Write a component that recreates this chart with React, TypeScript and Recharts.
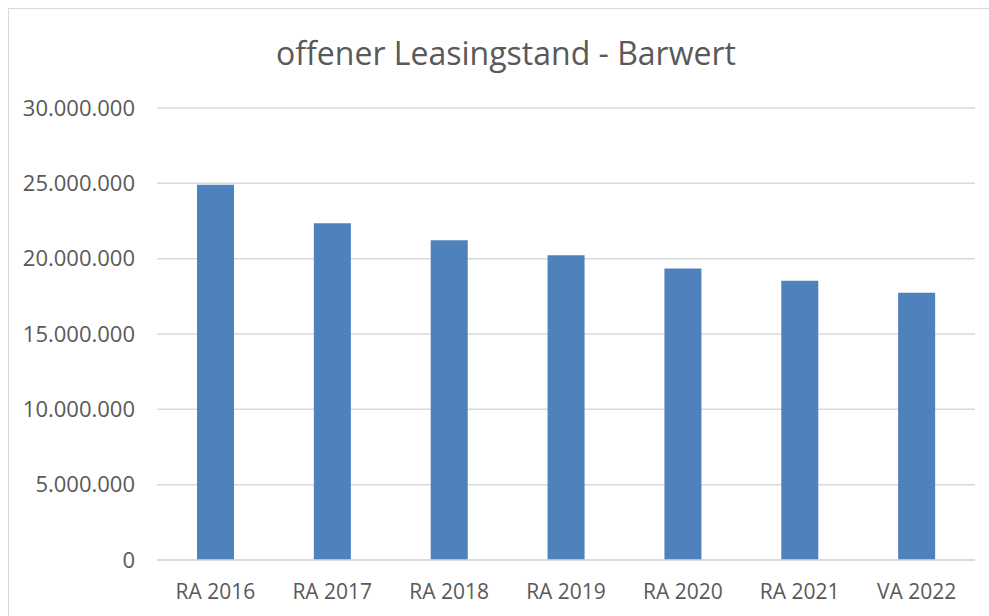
import { Bar, BarChart, CartesianGrid, XAxis, YAxis } from "recharts";

const categories = ["RA 2016", "RA 2017", "RA 2018", "RA 2019", "RA 2020", "RA 2021", "VA 2022"];
const barwert = [24900000, 22350000, 21230000, 20220000, 19340000, 18540000, 17730000];
const yTicks = [0, 5000000, 10000000, 15000000, 20000000, 25000000, 30000000];

const data = categories.map((name, i) => ({ name, value: barwert[i] }));

const fmt = (v: number) => (v === 0 ? "0" : v.toLocaleString("de-DE"));

const font = "'Open Sans', sans-serif";

export default function App() {
  // box is cut at the window edges (no right/bottom border in the original)
  return (
    <div
      style={{
        position: "fixed",
        left: 8,
        top: 8,
        boxSizing: "border-box",
        width: 981,
        height: 608,
        borderTop: "1px solid #d9d9d9",
        borderLeft: "1px solid #d9d9d9",
        background: "#fff",
        overflow: "hidden",
        fontFamily: font,
      }}
    >
      <div
        style={{
          position: "absolute",
          left: 0,
          width: 994,
          top: 22,
          textAlign: "center",
          fontSize: 32,
          color: "#595959",
          whiteSpace: "nowrap",
        }}
      >
        offener Leasingstand - Barwert
      </div>
      <BarChart
        width={980}
        height={607}
        data={data}
        margin={{ top: 99, right: 14, bottom: 15, left: 8 }}
        barSize={37}
      >
        <CartesianGrid vertical={false} stroke="#d9d9d9" strokeWidth={1.5} />
        <XAxis
          dataKey="name"
          tickLine={false}
          axisLine={{ stroke: "#d9d9d9", strokeWidth: 1.5 }}
          tick={{ fill: "#595959", fontSize: 21, fontFamily: font }}
          tickMargin={18}
          height={41}
        />
        <YAxis
          width={140}
          domain={[0, 30000000]}
          ticks={yTicks}
          tickFormatter={fmt}
          axisLine={false}
          tickLine={false}
          tickMargin={16}
          tick={{ fill: "#595959", fontSize: 22, fontFamily: font }}
        />
        <Bar dataKey="value" fill="#4f81bd" isAnimationActive={false} />
      </BarChart>
    </div>
  );
}
